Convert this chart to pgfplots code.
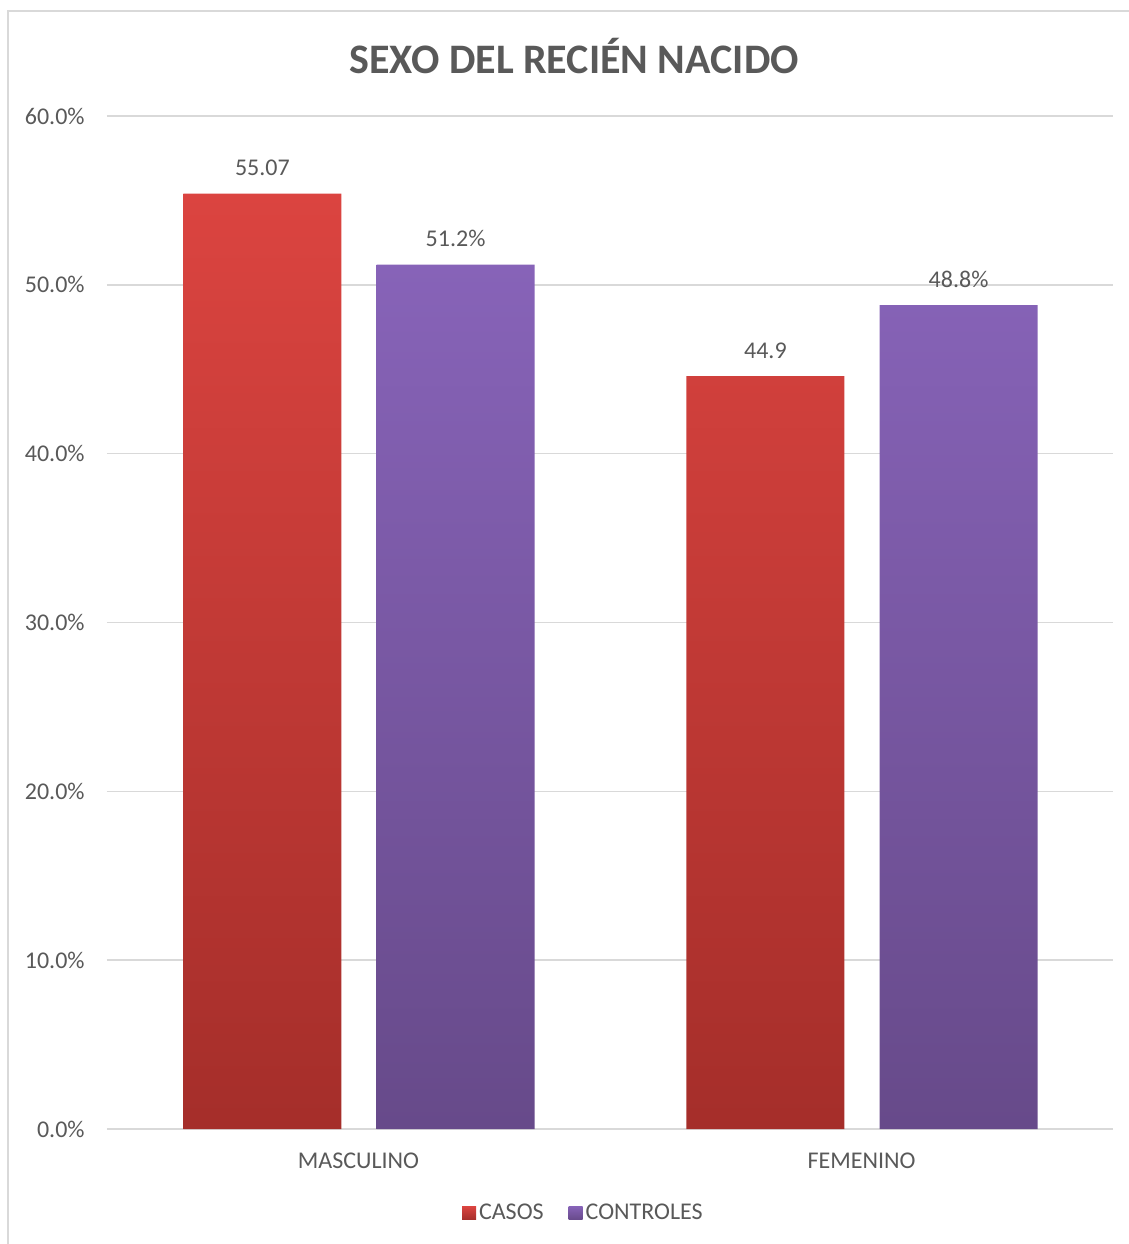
\documentclass[border=0pt]{standalone}
\usepackage{pgfplots}
\pgfplotsset{compat=1.18}
\usepackage{fontspec}
\setmainfont{Carlito}
\definecolor{txt}{HTML}{595959}
\definecolor{gridc}{HTML}{D9D9D9}
\definecolor{redtop}{HTML}{DB4440}
\definecolor{redbot}{HTML}{A52E2A}
\definecolor{purtop}{HTML}{8763B8}
\definecolor{purbot}{HTML}{674A8A}
\begin{document}
\begin{tikzpicture}
\useasboundingbox (0,0) rectangle (564.5pt,-622pt);
\draw[gridc, line width=1pt] (4pt,-622pt) -- (4pt,-5.5pt) -- (564.5pt,-5.5pt);
\node[anchor=base, text=txt, font=\fontsize{21}{25}\selectfont\bfseries] at (287pt,-36.5pt) {SEXO DEL RECIÉN NACIDO};
\begin{axis}[
  at={(53.5pt,-564.5pt)}, anchor=south west,
  width=503pt, height=506.5pt, scale only axis,
  ybar, clip=false,
  xmin=-0.5, xmax=1.5, ymin=0, ymax=60,
  axis line style={draw=none},
  major tick length=0pt,
  ymajorgrids, grid style={gridc, line width=0.75pt},
  ytick={0,10,20,30,40,50,60},
  yticklabels={0.0\%,10.0\%,20.0\%,30.0\%,40.0\%,50.0\%,60.0\%},
  xtick={0,1},
  xticklabels={MASCULINO,FEMENINO},
  yticklabel style={anchor=east, inner sep=0pt, xshift=-11pt, text=txt, font=\fontsize{12}{14}\selectfont},
  xticklabel style={anchor=north, inner sep=0pt, yshift=-12pt, text=txt, font=\fontsize{12}{14}\selectfont},
  point meta=explicit symbolic,
  nodes near coords,
  nodes near coords style={anchor=south, inner sep=0pt, yshift=8.7pt, text=txt, font=\fontsize{12}{14}\selectfont},
  legend columns=2,
  legend style={at={(0.474,-0.0829)}, anchor=center, draw=none, fill=none,
    font=\fontsize{12}{14}\selectfont, text=txt,
    /tikz/every even column/.append style={column sep=11pt},
    /tikz/every node/.append style={inner sep=1.5pt}},
  legend image code/.code={\path[#1, draw=none] (-0.5pt,-3.4pt) rectangle (6.5pt,3.4pt);},
]
\addplot[draw=none, top color=redtop, bottom color=redbot, bar width=0.314, bar shift=-0.191]
  coordinates {(0,55.4) [55.07] (1,44.6) [44.9]};
\addlegendentry{CASOS}
\addplot[draw=none, top color=purtop, bottom color=purbot, bar width=0.314, bar shift=0.193]
  coordinates {(0,51.2) [51.2\%] (1,48.8) [48.8\%]};
\addlegendentry{CONTROLES}
\end{axis}
\end{tikzpicture}
\end{document}
